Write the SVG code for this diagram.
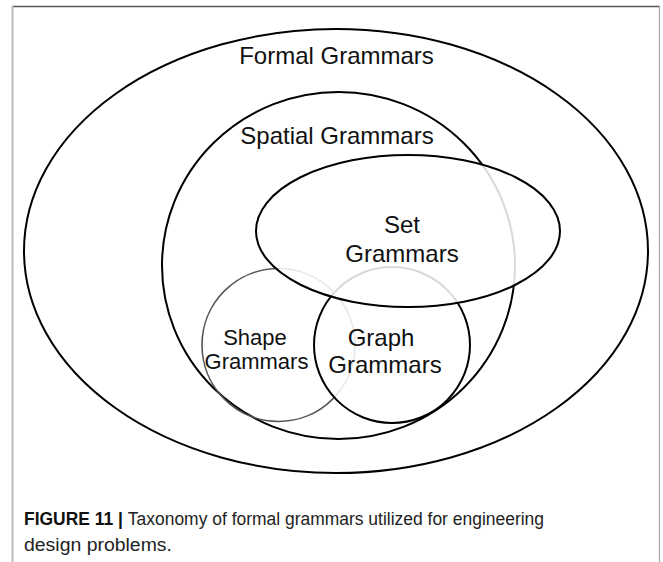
<svg xmlns="http://www.w3.org/2000/svg" width="663" height="562" viewBox="0 0 663 562">
<style>
.e{fill:none;stroke:#000;stroke-width:2}
.cover{fill:#fff;fill-opacity:0.85;stroke:#000;stroke-width:2}
.lbl{font-family:"Liberation Sans",Arial,sans-serif;font-size:24px;fill:#111;text-anchor:middle}
.cap{font-family:"Liberation Sans",Arial,sans-serif;font-size:17.5px;fill:#222}
</style>
<rect width="663" height="562" fill="#fff"/>
<g id="frame">
<line x1="12" y1="6.5" x2="659.5" y2="6.5" stroke="#555" stroke-width="1.5"/>
<line x1="12.5" y1="6" x2="12.5" y2="562" stroke="#bbb" stroke-width="2"/>
<line x1="659.5" y1="6" x2="659.5" y2="562" stroke="#aaa" stroke-width="1.2"/>
</g>
<g id="formal"><ellipse class="e" cx="336" cy="251" rx="312" ry="222"/></g>
<g id="spatial"><ellipse class="e" cx="338.5" cy="265.5" rx="176.5" ry="173.5"/></g>
<g id="shape"><circle cx="278.5" cy="345" r="76.5" fill="none" stroke="#555" stroke-width="1.6"/></g>
<g id="graph"><circle class="cover" cx="392" cy="345" r="78"/></g>
<g id="set"><ellipse class="cover" cx="408" cy="231" rx="152" ry="76"/></g>
<g id="labels">
<text class="lbl" x="336.5" y="64">Formal Grammars</text>
<text class="lbl" x="337" y="144">Spatial Grammars</text>
<text class="lbl" x="402" y="233">Set</text>
<text class="lbl" x="402" y="262">Grammars</text>
<text class="lbl" x="255" y="345" style="font-size:22px">Shape</text>
<text class="lbl" x="256.5" y="369" style="font-size:22px">Grammars</text>
<text class="lbl" x="381" y="346">Graph</text>
<text class="lbl" x="385" y="373">Grammars</text>
</g>
<g id="caption">
<text class="cap" x="24" y="525" textLength="520" lengthAdjust="spacingAndGlyphs"><tspan font-weight="bold" fill="#111">FIGURE 11 | </tspan>Taxonomy of formal grammars utilized for engineering</text>
<text class="cap" x="24" y="551" textLength="148" lengthAdjust="spacingAndGlyphs">design problems.</text>
</g>
</svg>
